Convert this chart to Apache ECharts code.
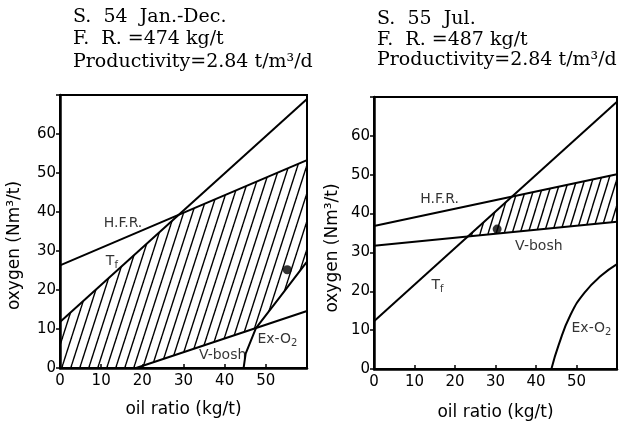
<!DOCTYPE html>
<html><head><meta charset="utf-8">
<script src="https://cdn.jsdelivr.net/npm/echarts@6/dist/echarts.min.js"></script>
<style>html,body{margin:0;padding:0;background:#fff}#c{width:620px;height:426px}</style>
</head><body><div id="c"></div>
<script>
// ---- tick labels ----
const xTicks = [0, 10, 20, 30, 40, 50];
const yTicks = [0, 10, 20, 30, 40, 50, 60];

// ---- left panel (S.54 Jan.-Dec.) ----
const leftTitle = ['S.  54  Jan.-Dec.', 'F.  R. =474 kg/t', 'Productivity=2.84 t/m³/d'];
const leftTf = [[0, 11.8], [60, 69.0]];
const leftHFR = [[0, 26.3], [60, 53.3]];
const leftVbosh = [[18.5, 0], [60, 14.6]];
const leftExO2 = [[44.6, 0], [45.1, 3.7], [46.4, 7.1], [47.6, 10.2], [53.5, 18.3], [60, 27.3]];
const leftPoint = [[55.2, 25.2]];
const leftHatch = [[0, 0], [0, 11.8], [28.8, 39.3], [60, 53.3], [60, 27.3], [53.5, 18.3], [47.6, 10.2], [18.5, 0]];
const leftLabelText = ['H.F.R.', 'T{s|f}', 'V-bosh', 'Ex-O{s|2}'];
const leftLabelPos = [[15.3, 37.0], [12.6, 27.4], [39.5, 3.3], [52.8, 7.4]];

// ---- right panel (S.55 Jul.) ----
const rightTitle = ['S.  55  Jul.', 'F.  R. =487 kg/t', 'Productivity=2.84 t/m³/d'];
const rightTf = [[0, 12.3], [60, 68.8]];
const rightHFR = [[0, 36.8], [60, 50.1]];
const rightVbosh = [[0, 31.7], [60, 37.9]];
const rightExO2 = [[43.8, 0], [45.6, 6.2], [48.5, 13.9], [52.1, 19.8], [56.2, 24.1], [60, 27.0]];
const rightPoint = [[30.4, 36.0]];
const rightHatch = [[23.1, 34.1], [34.0, 44.3], [60, 50.1], [60, 37.9]];
const rightLabelText = ['H.F.R.', 'T{s|f}', 'V-bosh', 'Ex-O{s|2}'];
const rightLabelPos = [[16.2, 43.6], [15.7, 21.4], [40.7, 31.6], [53.7, 10.5]];

function hatchPattern(w, h) {
  const cv = document.createElement('canvas');
  cv.width = w; cv.height = h;
  const ctx = cv.getContext('2d');
  ctx.strokeStyle = '#000';
  ctx.lineWidth = 1.4;
  for (const x0 of [-w, 0, w]) {
    ctx.beginPath();
    ctx.moveTo(x0, h);
    ctx.lineTo(x0 + w, 0);
    ctx.stroke();
  }
  return cv;
}
const leftPat = hatchPattern(9, 28);
const rightPat = hatchPattern(8, 26);

const chart = echarts.init(document.getElementById('c'), null, {renderer: 'canvas'});

const axisFont = 'DejaVu Sans';
function xAxis(i, gap) {
  return {
    type: 'value', gridIndex: i, min: 0, max: 60, interval: 10,
    name: 'oil ratio (kg/t)', nameLocation: 'middle', nameGap: gap,
    nameTextStyle: {fontFamily: axisFont, fontSize: 17, color: '#000'},
    axisLine: {show: true, lineStyle: {color: '#000', width: 2.5}},
    axisTick: {show: true, inside: true, length: 4, lineStyle: {color: '#000', width: 1.5}},
    axisLabel: {color: '#000', fontFamily: axisFont, fontSize: 15, margin: 6,
      formatter: v => xTicks.includes(v) ? String(v) : ''},
    splitLine: {show: false}
  };
}
function yAxis(i, gap, pad) {
  return {
    type: 'value', gridIndex: i, min: 0, max: 70, interval: 10,
    name: 'oxygen (Nm³/t)', nameLocation: 'middle', nameGap: gap,
    nameTextStyle: {fontFamily: axisFont, fontSize: 17, color: '#000', padding: [0, pad, 0, 0]},
    axisLine: {show: true, lineStyle: {color: '#000', width: 2.5}},
    axisTick: {show: true, inside: false, length: 4, lineStyle: {color: '#000', width: 1.5}},
    axisLabel: {color: '#000', fontFamily: axisFont, fontSize: 15, margin: 4,
      formatter: v => yTicks.includes(v) ? String(v) : ''},
    splitLine: {show: false}
  };
}
function line(data, g, smooth) {
  return {type: 'line', xAxisIndex: g, yAxisIndex: g, data: data, showSymbol: false, symbol: 'none',
    smooth: smooth || false,
    lineStyle: {color: '#000', width: 2}, silent: true, animation: false, z: 3};
}
function hatch(poly, g, pat) {
  return {type: 'custom', xAxisIndex: g, yAxisIndex: g, data: [[0, 0]], silent: true, animation: false, z: 2,
    renderItem: function (params, api) {
      return {type: 'polygon', shape: {points: poly.map(p => api.coord(p))},
        style: {fill: {image: pat, repeat: 'repeat'}, stroke: null}};
    }};
}
function point(data, g) {
  return {type: 'scatter', xAxisIndex: g, yAxisIndex: g, data: data, symbol: 'circle', symbolSize: 9,
    itemStyle: {color: '#000'}, silent: true, animation: false, z: 4};
}
function labels(texts, pos, g) {
  return {type: 'scatter', xAxisIndex: g, yAxisIndex: g, symbolSize: 0, silent: true, animation: false, z: 5,
    data: pos.map((p, k) => ({value: p, label: {show: true, position: 'inside', formatter: texts[k]}})),
    label: {color: '#000', fontFamily: axisFont, fontSize: 14, textBorderWidth: 0,
      rich: {s: {fontFamily: axisFont, fontSize: 10, padding: [8, 0, 0, 0], color: '#000'}}}};
}
function title(lines, x, tops) {
  return lines.map((t, k) => ({type: 'text', left: x, top: tops[k], silent: true,
    style: {text: t, font: '19px "DejaVu Serif"', fill: '#000'}}));
}

chart.setOption({
  backgroundColor: '#fff',
  animation: false,
  grid: [
    {left: 60, top: 95, width: 247, height: 273, show: true, borderColor: '#000', borderWidth: 2, backgroundColor: 'transparent'},
    {left: 374, top: 97, width: 245, height: 274, show: true, borderColor: '#000', borderWidth: 2, backgroundColor: 'transparent'}
  ],
  xAxis: [xAxis(0, 33), xAxis(1, 35)],
  yAxis: [yAxis(0, 37, 28), yAxis(1, 33, 30)],
  graphic: [].concat(title(leftTitle, 73, [8, 30, 53]), title(rightTitle, 377, [10, 31, 51])),
  series: [
    hatch(leftHatch, 0, leftPat),
    line(leftTf, 0), line(leftHFR, 0), line(leftVbosh, 0), line(leftExO2, 0),
    point(leftPoint, 0), labels(leftLabelText, leftLabelPos, 0),
    hatch(rightHatch, 1, rightPat),
    line(rightTf, 1), line(rightHFR, 1), line(rightVbosh, 1), line(rightExO2, 1, 0.5),
    point(rightPoint, 1), labels(rightLabelText, rightLabelPos, 1)
  ]
});
</script></body></html>
